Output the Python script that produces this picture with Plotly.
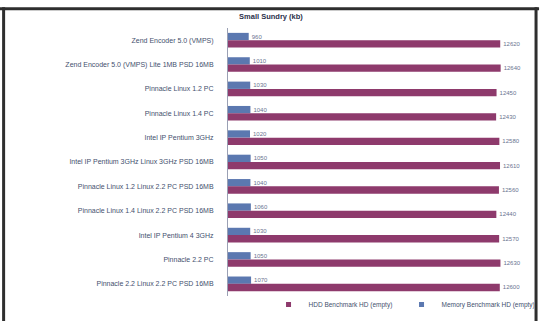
import plotly.graph_objects as go

categories = [
    "Zend Encoder 5.0 (VMPS)",
    "Zend Encoder 5.0 (VMPS) Lite 1MB PSD 16MB",
    "Pinnacle Linux 1.2 PC",
    "Pinnacle Linux 1.4 PC",
    "Intel IP Pentium 3GHz",
    "Intel IP Pentium 3GHz Linux 3GHz PSD 16MB",
    "Pinnacle Linux 1.2 Linux 2.2 PC PSD 16MB",
    "Pinnacle Linux 1.4 Linux 2.2 PC PSD 16MB",
    "Intel IP Pentium 4 3GHz",
    "Pinnacle 2.2 PC",
    "Pinnacle 2.2 Linux 2.2 PC PSD 16MB",
]
hdd_values = [12620, 12640, 12450, 12430, 12580, 12610, 12560, 12440, 12570, 12630, 12600]
mem_values = [960, 1010, 1030, 1040, 1020, 1050, 1040, 1060, 1030, 1050, 1070]
series_names = ["HDD Benchmark HD (empty)", "Memory Benchmark HD (empty)"]
colors = ["#8e3a6c", "#5b78b0"]

fig = go.Figure()
# memory first so it sits above the HDD bar within each group (reversed axis)
fig.add_trace(go.Bar(
    y=categories, x=mem_values, orientation="h", name=series_names[1],
    marker=dict(color=colors[1], line=dict(width=0)),
    text=[f"{v}" for v in mem_values], textposition="outside",
    textfont=dict(size=6, color="#6a7390"), cliponaxis=False, showlegend=False,
))
fig.add_trace(go.Bar(
    y=categories, x=hdd_values, orientation="h", name=series_names[0],
    marker=dict(color=colors[0], line=dict(width=0)),
    text=[f"{v}" for v in hdd_values], textposition="outside",
    textfont=dict(size=6, color="#6a7390"), cliponaxis=False, showlegend=False,
))
# legend entries with small square markers
for name, col in zip(series_names, colors):
    fig.add_trace(go.Scatter(
        x=[None], y=[None], mode="markers", name=name,
        marker=dict(symbol="square", size=5, color=col),
    ))

frame = "#2e2e2e"
shapes = [
    dict(type="line", xref="paper", yref="paper", x0=-0.76, x1=1.03, y0=1.072, y1=1.072,
         line=dict(color=frame, width=3)),
    dict(type="line", xref="paper", yref="paper", x0=-0.743, x1=-0.743, y0=1.077, y1=-0.12,
         line=dict(color=frame, width=3)),
    dict(type="line", xref="paper", yref="paper", x0=1.02, x1=1.02, y0=1.077, y1=-0.12,
         line=dict(color=frame, width=3)),
]

fig.update_layout(
    width=542, height=321,
    margin=dict(l=228, r=12, t=28, b=25, autoexpand=False),
    paper_bgcolor="white", plot_bgcolor="white",
    barmode="group", bargap=0.4, bargroupgap=0.0,
    font=dict(family="Liberation Sans, Arial, sans-serif", size=6, color="#44506e"),
    title=dict(text="<b>Small Sundry (kb)</b>", x=0.5, xref="container", xanchor="center",
               y=0.95, yref="container", yanchor="middle",
               font=dict(size=7.5, color="#2a2f4a")),
    xaxis=dict(range=[0, 14000], visible=False, showgrid=False, zeroline=False),
    yaxis=dict(autorange="reversed", showline=True, linecolor="#9aa0b4", linewidth=1,
               ticks="", ticklabelstandoff=12, tickfont=dict(size=7, color="#44506e"),
               showgrid=False),
    legend=dict(orientation="h", x=1.015, xanchor="right", y=0.022, yanchor="top",
                font=dict(size=6.5, color="#44506e"), traceorder="normal",
                itemwidth=30, entrywidth=88, entrywidthmode="pixels",
                tracegroupgap=0, bgcolor="rgba(0,0,0,0)"),
    showlegend=True,
    shapes=shapes,
)

fig.write_html("out.html")
